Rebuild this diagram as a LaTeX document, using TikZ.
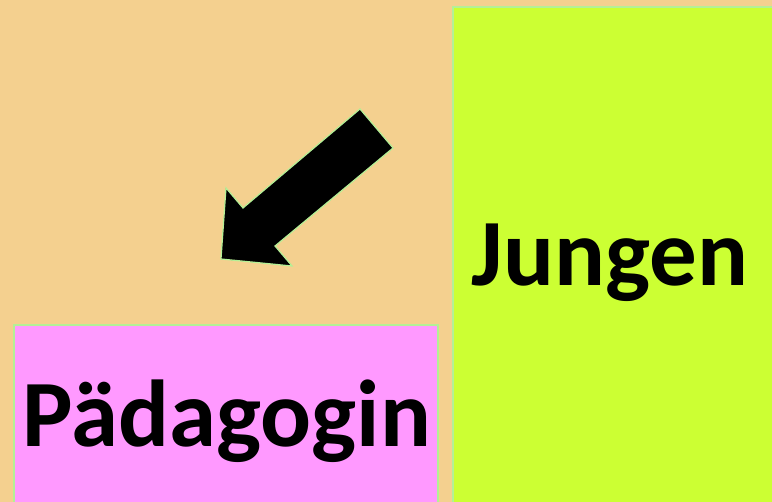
\documentclass[tikz,border=0pt]{standalone}
\usepackage{xcolor}
\usepackage{fontspec}
\setmainfont{Carlito}
\usepackage{tikz}
\usetikzlibrary{positioning, calc}
\definecolor{sandbg}{RGB}{244, 208, 143}
\definecolor{limebox}{RGB}{204, 255, 51}
\definecolor{pinkbox}{RGB}{255, 153, 255}
\definecolor{paleedge}{RGB}{180, 240, 150}

\begin{document}
\begin{tikzpicture}[x=1pt, y=-1pt,
    box/.style={draw=paleedge, line width=1.5pt, inner sep=0pt, outer sep=0pt},
    bigword/.style={font=\fontsize{95}{100}\selectfont\bfseries, text=black, inner sep=0pt}]
    \fill[sandbg] (0,0) rectangle (772,502);
    \useasboundingbox (0,0) rectangle (772,502);
    \node[box, fill=limebox, minimum width=320pt, minimum height=500pt, anchor=north west] (jungenbox) at (453,7) {};
    \node[box, fill=pinkbox, minimum width=424pt, minimum height=190pt, anchor=north west] (paedbox) at (14,325) {};
    \node[bigword, anchor=base] (jungen) at (610,286) {Jungen};
    \node[bigword, anchor=base] (paed) at (227,447) {Pädagogin};
    \fill[black, draw=paleedge, line width=1.2pt, line join=miter]
        (360,109) -- (393,148) -- (275,246) -- (292,266) -- (221,259) -- (226,188) -- (243,208) -- cycle;
\end{tikzpicture}
\end{document}
